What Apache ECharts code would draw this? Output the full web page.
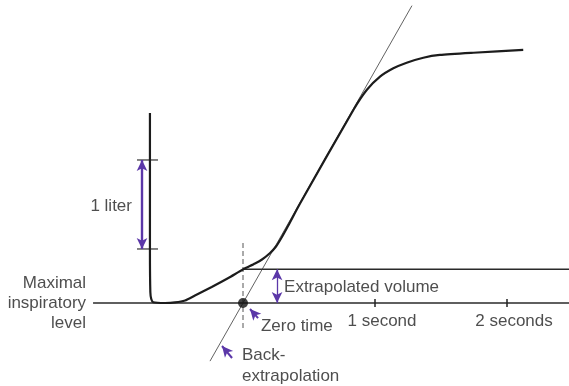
<!DOCTYPE html>
<html>
<head>
<meta charset="utf-8">
<script src="https://cdn.jsdelivr.net/npm/echarts@6/dist/echarts.min.js"></script>
<style>
  html, body { margin: 0; padding: 0; background: #fff; }
  #chart { width: 569px; height: 386px; }
</style>
</head>
<body>
<div id="chart"></div>
<script>
// Spirogram with back-extrapolation: time in seconds (zero time = 0), volume in liters above maximal inspiratory level.
const spiroTime = [-0.705, -0.705, -0.702, -0.695, -0.680, -0.591, -0.515, -0.439, -0.364, -0.237, -0.111, 0.002, 0.091, 0.144, 0.205, 0.250, 0.295, 0.341, 0.432, 0.836, 0.937, 1.038, 1.139, 1.240, 1.366, 1.492, 1.745, 2.123];
const spiroVolume = [2.135, 0.596, 0.124, 0.045, 0.008, 0.000, 0.006, 0.028, 0.084, 0.180, 0.281, 0.379, 0.444, 0.489, 0.562, 0.635, 0.742, 0.865, 1.118, 2.169, 2.393, 2.543, 2.637, 2.700, 2.756, 2.787, 2.812, 2.843];

// Steepest-slope line through zero time
const tangentTime = [-0.25, 1.28];
const tangentVolume = [-0.653, 3.341];

const baselineTime = [-1.136, 2.47];
const zeroTime = 0;
const extrapolatedVolume = 0.379;
const literScale = [0.607, 1.607];

const tickSeconds = [1, 2];
const tickLabels = ['1 second', '2 seconds'];

const X_MIN = -243 / 132, X_MAX = 326 / 132;
const Y_MIN = -83 / 89, Y_MAX = 303 / 89;

const INK = '#1c1c1c';
const PURPLE = '#5b37a8';
const FONT = '"Liberation Sans", Arial, Helvetica, sans-serif';

function seg(points, style) {
  return {
    type: 'line', data: points, symbol: 'none', silent: true,
    lineStyle: Object.assign({ color: INK, width: 1.2 }, style), z: 2
  };
}

function arrow(from, to, both, width) {
  return {
    type: 'line', data: [], silent: true,
    markLine: {
      silent: true, animation: false,
      symbol: both ? ['arrow', 'arrow'] : ['none', 'arrow'],
      symbolSize: [8, 11],
      label: { show: false },
      lineStyle: { color: PURPLE, width: width, type: 'solid' },
      data: [[{ coord: from }, { coord: to }]]
    }
  };
}

function text(pos, str, opts) {
  return {
    type: 'scatter', symbolSize: 0, silent: true, z: 5,
    data: [{ value: pos, name: str }],
    label: Object.assign({
      show: true, formatter: '{b}', color: '#222', fontSize: 17,
      fontFamily: FONT, position: 'inside', lineHeight: 20
    }, opts)
  };
}

const series = [];

// baseline (maximal inspiratory level)
series.push(seg(baselineTime.map(t => [t, 0]), { width: 1.3, color: '#2a2a2a' }));
// extrapolated volume level
series.push(seg([[zeroTime, extrapolatedVolume], [X_MAX, extrapolatedVolume]], { width: 1.3, color: '#2a2a2a' }));
// back-extrapolation line
series.push(seg(tangentTime.map((t, i) => [t, tangentVolume[i]]), { width: 0.8, color: '#3a3a3a' }));
// zero-time marker
series.push(seg([[zeroTime, 0.674], [zeroTime, -0.281]], { width: 1, color: '#555', type: [5, 3] }));
// spirogram trace
series.push(Object.assign(seg(spiroTime.map((t, i) => [t, spiroVolume[i]]), { width: 2.2, color: INK }), { smooth: 0.2, z: 3 }));
// 1 liter scale ticks
literScale.forEach(v => series.push(seg([[-0.803, v], [-0.644, v]], { width: 1.2, color: '#333' })));
// time ticks
tickSeconds.forEach(t => series.push(seg([[t, 0.045], [t, -0.045]], { width: 1.5, color: '#222' })));
// dot at zero time
series.push({
  type: 'scatter', data: [[zeroTime, 0]], symbolSize: 10, silent: true, z: 6,
  itemStyle: { color: '#111' }
});

// purple arrows
series.push(arrow([-0.765, literScale[0]], [-0.765, literScale[1]], true, 2.4));
series.push(arrow([0.258, 0], [0.258, extrapolatedVolume], true, 1.3));
series.push(arrow([0.114, -0.169], [0.053, -0.067], false, 2));
series.push(arrow([-0.083, -0.618], [-0.159, -0.483], false, 2));

// texts
series.push(text([-0.841, 1.09], '1 liter', { align: 'right', verticalAlign: 'middle' }));
series.push(text([-1.189, 0], 'Maximal\ninspiratory\nlevel', { align: 'right', verticalAlign: 'middle' }));
series.push(text([0.311, 0.18], 'Extrapolated volume', { align: 'left', verticalAlign: 'middle' }));
series.push(text([0.136, -0.258], 'Zero time', { align: 'left', verticalAlign: 'middle' }));
series.push(text([-0.008, -0.702], 'Back-\nextrapolation', { align: 'left', verticalAlign: 'middle', lineHeight: 21 }));
tickSeconds.forEach((t, i) => series.push(text([t, 0], tickLabels[i], { align: 'center', verticalAlign: 'middle', offset: [7, 18] })));

const chart = echarts.init(document.getElementById('chart'), null, { renderer: 'canvas' });
chart.setOption({
  animation: false,
  backgroundColor: '#fff',
  grid: { left: 0, right: 0, top: 0, bottom: 0 },
  xAxis: { type: 'value', min: X_MIN, max: X_MAX, show: false },
  yAxis: { type: 'value', min: Y_MIN, max: Y_MAX, show: false },
  series: series
});
</script>
</body>
</html>
